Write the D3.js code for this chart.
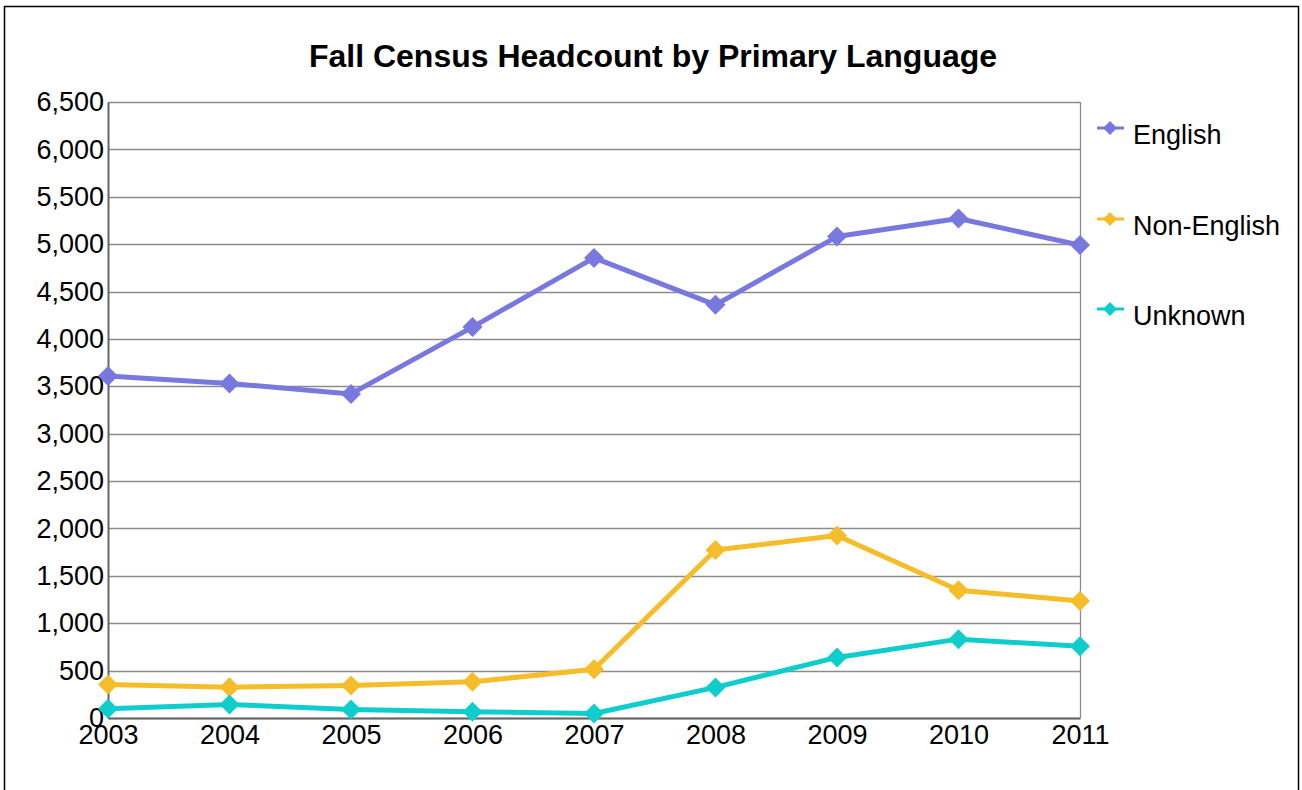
<!DOCTYPE html>
<html>
<head>
<meta charset="utf-8">
<script src="https://cdn.jsdelivr.net/npm/d3@7"></script>
<style>
  body { margin: 0; background: #fff; }
  text { font-family: "Liberation Sans", Arial, sans-serif; }
</style>
</head>
<body>
<div id="chart"></div>
<script>
// Data
const years = [2003, 2004, 2005, 2006, 2007, 2008, 2009, 2010, 2011];
const english = [3610, 3530, 3420, 4125, 4855, 4360, 5080, 5270, 4990];
const nonEnglish = [353, 325, 343, 382, 515, 1773, 1925, 1348, 1235];
const unknown = [97, 142, 90, 65, 47, 323, 639, 832, 756];
const seriesNames = ["English", "Non-English", "Unknown"];
const seriesColors = ["#7878de", "#f6bd2a", "#10cdcd"];
const yTicks = d3.range(0, 6501, 500);

const width = 1302, height = 790;
const margin = {top: 102, bottom: 72, left: 108, right: 222};

const svg = d3.select('#chart')
    .append('svg')
    .attr('width', width)
    .attr('height', height)

// outer frame
svg.append('rect')
    .attr('x', 4.5)
    .attr('y', 6.5)
    .attr('width', 1294)
    .attr('height', 820)
    .attr('fill', 'none')
    .attr('stroke', '#000')
    .attr('stroke-width', 1.5)

// title
svg.append('text')
    .attr('x', 653)
    .attr('y', 67)
    .text('Fall Census Headcount by Primary Language')
    .style('text-anchor', 'middle')
    .style('font-weight', 'bold')
    .style('font-size', '32px')

const xScale = d3.scalePoint()
    .domain(years)
    .range([margin.left, width - margin.right])

const yScale = d3.scaleLinear()
    .domain([0, 6500])
    .range([height - margin.bottom, margin.top])

// gridlines
svg.append('g')
    .selectAll('line')
    .data(yTicks)
    .enter().append('line')
    .attr('x1', margin.left)
    .attr('x2', width - margin.right)
    .attr('y1', d => Math.round(yScale(d)) + 0.5)
    .attr('y2', d => Math.round(yScale(d)) + 0.5)
    .attr('stroke', '#8c8c8c')
    .attr('stroke-width', 1.3)

// right border of plot
svg.append('line')
    .attr('x1', width - margin.right + 0.5)
    .attr('x2', width - margin.right + 0.5)
    .attr('y1', margin.top)
    .attr('y2', height - margin.bottom)
    .attr('stroke', '#8c8c8c')
    .attr('stroke-width', 1.3)

// y axis
const yAxis = svg.append('g')
    .attr('transform', `translate(${margin.left},0)`)
    .call(d3.axisLeft(yScale).tickValues(yTicks).tickFormat(d3.format(',')).tickSize(0).tickPadding(4))
yAxis.select('.domain').attr('stroke', '#666').attr('stroke-width', 2)
yAxis.selectAll('text').style('font-size', '27px').attr('fill', '#000')

// x axis
const xAxis = svg.append('g')
    .attr('transform', `translate(0,${height - margin.bottom})`)
    .call(d3.axisBottom(xScale).tickSize(0).tickPadding(7))
xAxis.select('.domain').attr('stroke', '#666').attr('stroke-width', 2)
xAxis.selectAll('text').style('font-size', '27px').attr('fill', '#000')

const series = [english, nonEnglish, unknown];
const line = d3.line()
    .x((d, i) => xScale(years[i]))
    .y(d => yScale(d))

const diamond = r => `M0,${-r}L${r},0L0,${r}L${-r},0Z`;

series.forEach((values, s) => {
    svg.append('path')
        .datum(values)
        .attr('d', line)
        .attr('fill', 'none')
        .attr('stroke', seriesColors[s])
        .attr('stroke-width', 5)
        .attr('stroke-linejoin', 'round')

    svg.append('g')
        .selectAll('path')
        .data(values)
        .enter().append('path')
        .attr('d', diamond(10))
        .attr('transform', (d, i) => `translate(${xScale(years[i])},${yScale(d)})`)
        .attr('fill', seriesColors[s])
})

// legend
const legendY = [128, 219, 309];
const legend = svg.append('g')
    .selectAll('g')
    .data(seriesNames)
    .enter().append('g')
    .attr('transform', (d, i) => `translate(1110,${legendY[i]})`)

legend.append('line')
    .attr('x1', -13)
    .attr('x2', 14)
    .attr('stroke', (d, i) => seriesColors[i])
    .attr('stroke-width', 3)

legend.append('path')
    .attr('d', diamond(7))
    .attr('fill', (d, i) => seriesColors[i])

// text sits a bit below the marker, like the original
legend.append('text')
    .attr('x', 23)
    .attr('y', 16)
    .text(d => d)
    .style('font-size', '27px')
</script>
</body>
</html>
